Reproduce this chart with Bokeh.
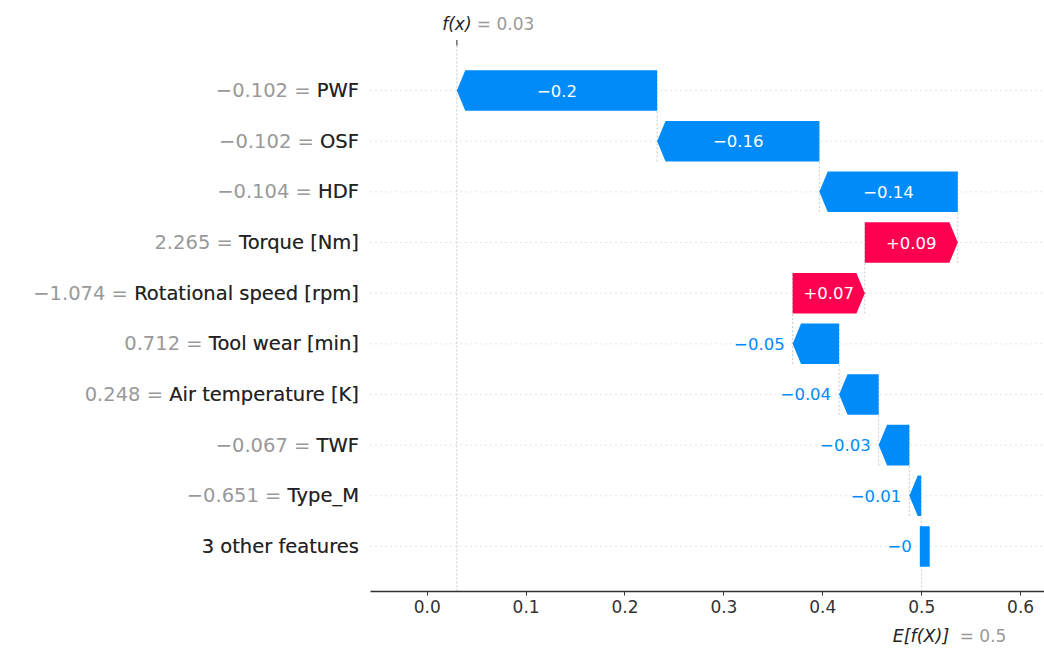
import re
from bokeh.plotting import figure
from bokeh.layouts import column
from bokeh.models import ColumnDataSource, FixedTicker, Range1d
from bokeh.embed import file_html
from bokeh.resources import INLINE
from bokeh.core.properties import value

# ---------------- data ----------------
feature_names = ["PWF", "OSF", "HDF", "Torque [Nm]", "Rotational speed [rpm]",
                 "Tool wear [min]", "Air temperature [K]", "TWF", "Type_M",
                 "3 other features"]
feature_values = [-0.102, -0.102, -0.104, 2.265, -1.074, 0.712, 0.248, -0.067, -0.651, None]
shap_values = [-0.2025, -0.164, -0.140, 0.094, 0.073, -0.047, -0.040, -0.031, -0.012, -0.0005]
base_value = 0.5
x_ticks = [0.0, 0.1, 0.2, 0.3, 0.4, 0.5, 0.6]
x_tick_labels = ["0.0", "0.1", "0.2", "0.3", "0.4", "0.5", "0.6"]

# ---------------- style ----------------
BLUE = "#008BFB"
RED = "#FF0051"
GRAY = "#999999"
DARK = "#222222"
FONT = "DejaVu Sans"
W = 1044
H_MAIN, BB = 621, 30           # frame height 591, bottom axis panel 30
H_FOOT = 27
X0, X1 = -0.43145, 0.62417     # full-canvas frame
AX_START = -0.05733            # left end of the plotted axes area
Y0, Y1 = -0.89, 10.778
AX_TOP = 9.89                  # top of the plotted axes area
BAR_H = 0.4
HEAD = 0.0085


def fmt(v, f):
    s = f % v
    s = re.sub(r"\.?0+$", "", s)
    if s.startswith("-"):
        s = "\u2212" + s[1:]
    return s


n = len(feature_names)
rows = [n - 1 - i for i in range(n)]
fx = base_value + sum(shap_values)
px_per_unit = W / (X1 - X0)

p = figure(width=W, height=H_MAIN, x_range=Range1d(X0, X1), y_range=Range1d(Y0, Y1),
           output_backend="svg", toolbar_location=None, y_axis_location=None,
           min_border_left=0, min_border_right=0, min_border_top=0,
           min_border_bottom=BB)
p.outline_line_color = None
p.background_fill_color = "white"
p.border_fill_color = "white"
p.xgrid.visible = False
p.ygrid.visible = False

ax = p.xaxis[0]
ax.bounds = (AX_START, X1)
ax.ticker = FixedTicker(ticks=x_ticks)
ax.major_label_overrides = {t: l for t, l in zip(x_ticks, x_tick_labels)}
ax.axis_line_color = "#333333"
ax.axis_line_width = 1.3
ax.major_tick_line_color = "#333333"
ax.major_tick_in = 0
ax.major_tick_out = 4
ax.minor_tick_line_color = None
ax.major_label_standoff = 4
ax.major_label_text_font = FONT
ax.major_label_text_font_size = "17px"
ax.major_label_text_color = "#333333"

# horizontal dotted row lines
p.segment(x0=[AX_START] * n, y0=rows, x1=[X1] * n, y1=rows, line_color="#cccccc",
          line_dash="1 4", line_width=1)

# vertical dashed lines: f(x) full height + bar connectors
seg_x, seg_y0, seg_y1 = [fx], [Y0], [AX_TOP]
loc = fx
polys_x, polys_y, cols = [], [], []
lab_in = dict(x=[], y=[], text=[])
lab_out_neg = dict(x=[], y=[], text=[])
lab_out_pos = dict(x=[], y=[], text=[])
for i, v in enumerate(shap_values):
    r = rows[i]
    prev = loc
    loc = prev - v
    L, R = min(prev, loc), max(prev, loc)
    d = R - L
    hl = min(d, HEAD)
    if d * px_per_unit < 3:
        # degenerate tiny arrow renders as a small block
        L, R = L - 0.0014, L + 0.0086
        xs = [L, R, R, L]
        ys = [r + BAR_H, r + BAR_H, r - BAR_H, r - BAR_H]
    elif v < 0:
        xs = [R, L + hl, L, L + hl, R]
        ys = [r + BAR_H, r + BAR_H, r, r - BAR_H, r - BAR_H]
    else:
        xs = [L, R - hl, R, R - hl, L]
        ys = [r + BAR_H, r + BAR_H, r, r - BAR_H, r - BAR_H]
    polys_x.append(xs)
    polys_y.append(ys)
    cols.append(BLUE if v < 0 else RED)
    txt = fmt(v, "%+0.02f")
    if (R - L) * px_per_unit > 10.2 * len(txt) + 2:
        lab_in["x"].append((L + R) / 2); lab_in["y"].append(r); lab_in["text"].append(txt)
    elif v < 0:
        lab_out_neg["x"].append(L); lab_out_neg["y"].append(r); lab_out_neg["text"].append(txt)
    else:
        lab_out_pos["x"].append(R); lab_out_pos["y"].append(r); lab_out_pos["text"].append(txt)
    seg_x.append(loc)
    seg_y0.append(max(r - 1 - BAR_H, Y0))
    seg_y1.append(r + BAR_H)

p.segment(x0=seg_x, y0=seg_y0, x1=seg_x, y1=seg_y1, line_color="#bbbbbb",
          line_dash="2 2", line_width=0.8)
# f(x) tick mark on top of the axes area
p.segment(x0=[fx], y0=[AX_TOP], x1=[fx], y1=[AX_TOP + 0.11], line_color="#555555",
          line_width=1.3)

p.patches(xs=polys_x, ys=polys_y, fill_color=cols, line_color=None)

common = dict(text_font=value(FONT), text_font_size="16.5px", text_baseline="middle")
p.text(x="x", y="y", text="text", source=ColumnDataSource(lab_in), text_color="white",
       text_align="center", **common)
p.text(x="x", y="y", text="text", source=ColumnDataSource(lab_out_neg), text_color=BLUE,
       text_align="right", x_offset=-8, **common)
p.text(x="x", y="y", text="text", source=ColumnDataSource(lab_out_pos), text_color=RED,
       text_align="left", x_offset=8, **common)

# y labels: gray "value = name" behind black "name"
LABEL_X = -0.0690
full = [(fmt(fv, "%0.03f") + " = " + nm) if fv is not None else nm
        for fv, nm in zip(feature_values, feature_names)]
ysrc = ColumnDataSource(dict(x=[LABEL_X] * n, y=rows, full=full, name=feature_names))
ylab = dict(text_align="right", text_baseline="middle", text_font=value(FONT),
            text_font_size="19.5px")
p.text(x="x", y="y", text="full", source=ysrc, text_color=GRAY, **ylab)
p.text(x="x", y="y", text="name", source=ysrc, text_color=DARK, **ylab)

# f(x) label
FX_Y = 10.305
p.text(x=[fx], y=[FX_Y], text=["f(x)"], text_align="center", text_baseline="middle",
       text_font=value(FONT), text_font_style="italic", text_font_size="17px",
       text_color=DARK)
p.text(x=[fx], y=[FX_Y], text=["= " + fmt(fx, "%0.03f")], x_offset=20, text_align="left",
       text_baseline="middle", text_font=value(FONT), text_font_size="17px",
       text_color=GRAY)

# footer strip with E[f(X)] label (shares the x scale)
f2 = figure(width=W, height=H_FOOT, x_range=p.x_range, y_range=Range1d(0, 1),
            output_backend="svg", toolbar_location=None, x_axis_location=None,
            y_axis_location=None, min_border=0)
f2.outline_line_color = None
f2.xgrid.visible = False
f2.ygrid.visible = False
E_Y = 0.456
f2.text(x=[base_value], y=[E_Y], text=["E[f(X)]"], x_offset=-29, text_align="left",
        text_baseline="middle", text_font=value(FONT), text_font_style="italic",
        text_font_size="17.5px", text_color=DARK)
f2.text(x=[base_value], y=[E_Y], text=["= " + fmt(base_value, "%0.03f")], x_offset=38,
        text_align="left", text_baseline="middle", text_font=value(FONT),
        text_font_size="17px", text_color=GRAY)

layout = column(p, f2, spacing=0)
open("out.html", "w").write(file_html(layout, INLINE))
